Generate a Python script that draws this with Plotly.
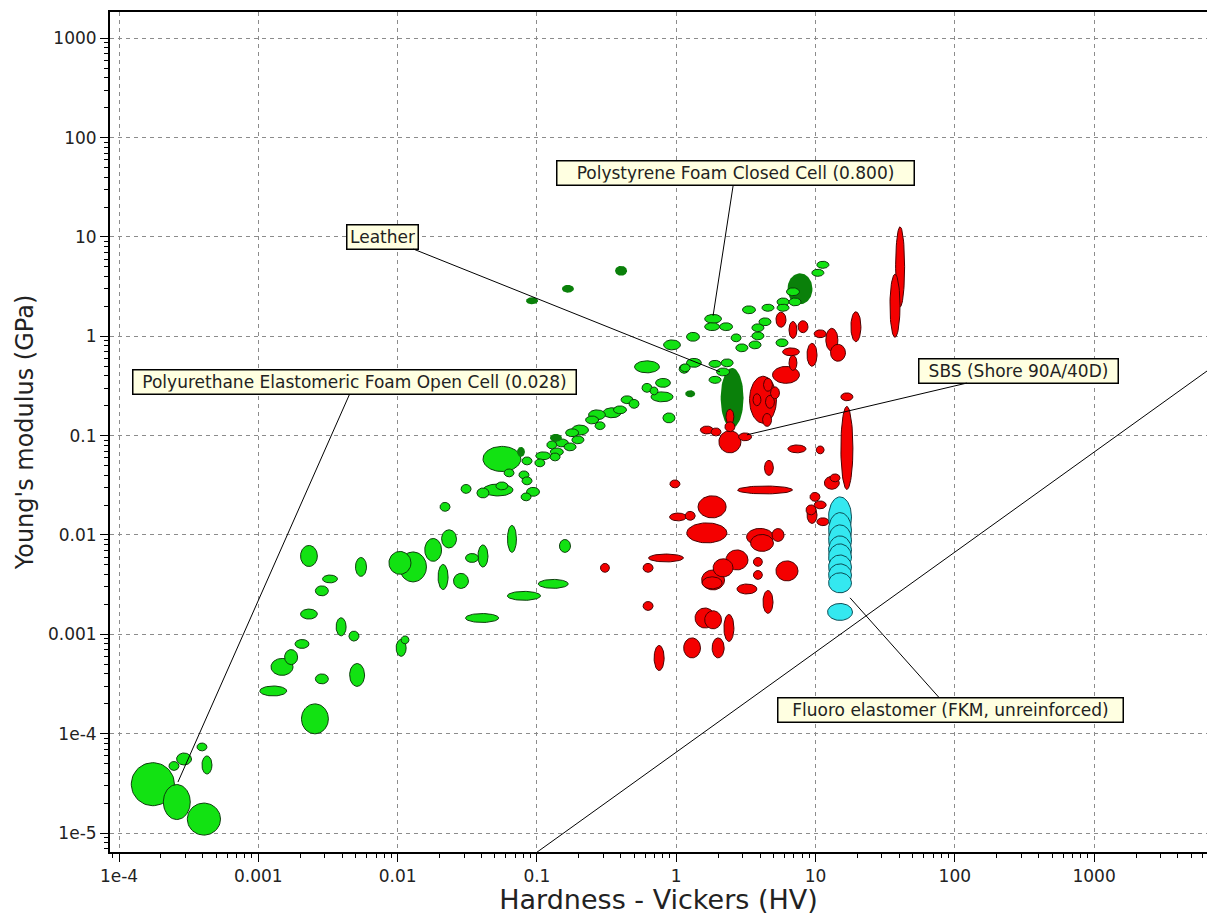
import numpy as np
import plotly.graph_objects as go

# ---------------- tick labels ----------------
X_TICKS = [1e-4, 1e-3, 1e-2, 1e-1, 1, 10, 100, 1000]
X_TICK_TEXT = ["1e-4", "0.001", "0.01", "0.1", "1", "10", "100", "1000"]
Y_TICKS = [1e-5, 1e-4, 1e-3, 1e-2, 1e-1, 1, 10, 100, 1000]
Y_TICK_TEXT = ["1e-5", "1e-4", "0.001", "0.01", "0.1", "1", "10", "100", "1000"]

# ---------------- foams (light green) ----------------
# centre hardness (HV), centre modulus (GPa), range ratio max/min in HV and in E
FOAM_HV = [1.75e-4, 2.6e-4, 4.07e-4, 2.48e-4, 2.93e-4, 3.94e-4, 4.28e-4,
           2.31e-3, 5.46e-3, 3.27e-3, 2.86e-3, 2.31e-3, 3.93e-3, 4.86e-3, 2.06e-3, 1.72e-3, 1.48e-3,
           1.06e-2, 1.13e-2, 2.86e-3, 5.12e-3, 1.28e-3, 2.55e-3,
           1.04e-2, 1.29e-2, 1.80e-2, 2.34e-2, 2.12e-2, 2.85e-2, 3.42e-2, 4.10e-2, 6.62e-2, 0.159,
           0.131, 8.07e-2, 4.04e-2,
           2.19e-2, 3.10e-2, 4.10e-2, 5.26e-2, 5.61e-2, 8.36e-2, 9.38e-2, 5.61e-2, 8.49e-2, 6.31e-2,
           8.07e-2, 8.49e-2, 0.105, 0.111, 0.135, 0.139, 0.128, 0.151, 0.173, 0.197, 0.179, 0.204,
           0.249, 0.284, 0.270, 0.346, 0.395, 0.444, 0.498, 0.617, 0.804, 0.617, 0.693, 0.791, 0.887,
           1.14, 1.34, 0.933, 1.32, 1.84, 1.81, 2.28, 3.33, 1.90, 2.17, 2.32, 1.90, 1.16,
           2.69, 2.96, 3.68, 3.86, 3.86, 4.34, 4.56, 5.85, 5.85, 6.89, 7.13, 5.75, 10.4, 11.3]
FOAM_E = [3.1e-5, 2.05e-5, 1.38e-5, 4.73e-5, 5.56e-5, 7.35e-5, 4.84e-5,
          6.15e-3, 4.77e-3, 3.61e-3, 2.74e-3, 1.60e-3, 1.19e-3, 9.6e-4, 8.0e-4, 5.9e-4, 4.7e-4,
          7.3e-4, 8.8e-4, 3.56e-4, 3.9e-4, 2.69e-4, 1.41e-4,
          5.24e-3, 4.77e-3, 7.08e-3, 9.14e-3, 3.78e-3, 3.45e-3, 5.87e-3, 6.15e-3, 9.14e-3, 7.76e-3,
          3.22e-3, 2.44e-3, 1.46e-3,
          1.92e-2, 2.91e-2, 2.65e-2, 2.84e-2, 3.12e-2, 2.42e-2, 2.72e-2, 5.83e-2, 5.57e-2, 4.22e-2,
          4.03e-2, 3.51e-2, 5.32e-2, 6.27e-2, 6.11e-2, 6.87e-2, 8.07e-2, 8.45e-2, 7.71e-2, 9.08e-2, 0.107, 0.114,
          0.144, 0.126, 0.162, 0.170, 0.182, 0.230, 0.209, 0.493, 0.340, 0.303, 0.282, 0.246, 0.151,
          0.471, 0.541, 0.820, 0.989, 1.50, 1.25, 1.25, 1.85, 0.365, 0.438, 0.541, 0.528, 0.482,
          0.966, 0.766, 0.820, 1.01, 1.22, 1.40, 1.94, 2.22, 1.94, 2.81, 2.22, 0.861, 4.36, 5.25]
FOAM_HV_RATIO = [2.04, 1.56, 1.73, 1.18, 1.28, 1.18, 1.18,
                 1.32, 1.20, 1.28, 1.24, 1.32, 1.18, 1.18, 1.26, 1.24, 1.44,
                 1.18, 1.14, 1.24, 1.28, 1.56, 1.56,
                 1.44, 1.56, 1.32, 1.28, 1.18, 1.28, 1.24, 1.18, 1.16, 1.20,
                 1.64, 1.73, 1.73,
                 1.18, 1.18, 1.22, 1.64, 1.22, 1.18, 1.24, 1.87, 1.18, 1.18,
                 1.18, 1.18, 1.18, 1.28, 1.18, 1.24, 1.18, 1.24, 1.22, 1.22, 1.24, 1.32,
                 1.24, 1.18, 1.32, 1.35, 1.24, 1.22, 1.18, 1.51, 1.28, 1.18, 1.14, 1.44, 1.22,
                 1.18, 1.28, 1.32, 1.24, 1.32, 1.28, 1.24, 1.24, 1.22, 1.24, 1.22, 1.22, 1.18,
                 1.18, 1.22, 1.22, 1.22, 1.22, 1.22, 1.22, 1.22, 1.22, 1.24, 1.22, 1.22, 1.22, 1.22]
FOAM_E_RATIO = [2.71, 2.25, 2.10, 1.23, 1.32, 1.20, 1.52,
                1.63, 1.55, 1.20, 1.26, 1.26, 1.52, 1.26, 1.23, 1.42, 1.48,
                1.48, 1.20, 1.26, 1.70, 1.26, 2.00,
                1.70, 2.00, 1.70, 1.52, 1.79, 1.42, 1.23, 1.67, 1.87, 1.35,
                1.23, 1.23, 1.23,
                1.23, 1.23, 1.26, 1.32, 1.20, 1.20, 1.23, 1.79, 1.20, 1.20,
                1.20, 1.20, 1.20, 1.20, 1.20, 1.20, 1.20, 1.20, 1.20, 1.20, 1.20, 1.26,
                1.20, 1.20, 1.26, 1.26, 1.20, 1.20, 1.23, 1.32, 1.23, 1.23, 1.20, 1.26, 1.26,
                1.23, 1.23, 1.26, 1.23, 1.23, 1.20, 1.20, 1.20, 1.18, 1.20, 1.20, 1.18, 1.20,
                1.20, 1.20, 1.20, 1.20, 1.20, 1.20, 1.18, 1.20, 1.18, 1.20, 1.20, 1.20, 1.18, 1.18]

# ---------------- natural materials (dark green) ----------------
NATURAL_HV = [0.402, 0.167, 9.23e-2, 7.74, 2.52, 1.26, 0.137, 7.69e-2]
NATURAL_E = [4.57, 3.01, 2.28, 3.01, 0.240, 0.264, 9.51e-2, 6.87e-2]
NATURAL_HV_RATIO = [1.22, 1.22, 1.22, 1.51, 1.46, 1.18, 1.22, 1.14]
NATURAL_E_RATIO = [1.26, 1.20, 1.18, 2.05, 4.02, 1.18, 1.20, 1.26]

# ---------------- elastomers (red) ----------------
ELAST_HV = [40.5, 37.2, 19.5, 13.1, 14.5, 10.8, 9.44, 8.13, 6.89, 6.67, 6.89, 5.65, 6.14,
            4.20, 4.56, 4.71, 4.49, 3.80, 5.12, 2.43, 2.43, 1.66, 1.93, 3.12, 2.43,
            16.8, 16.8, 7.36, 10.8, 4.63, 0.979, 4.34, 13.1, 13.8, 9.91, 10.8, 9.44, 11.3,
            1.81, 1.03, 1.26, 1.66, 4.00, 4.13, 5.38, 0.845, 0.308, 0.628, 2.73, 2.17, 1.84,
            1.81, 3.86, 3.86, 6.24, 3.22, 4.56, 0.628, 1.61, 1.84, 2.39, 1.30, 2.00, 0.754, 9.29]
ELAST_E = [5.01, 2.03, 1.25, 0.923, 0.683, 1.06, 0.652, 1.25, 1.16, 0.698, 0.541, 1.47, 0.409,
           0.230, 0.325, 0.219, 0.144, 0.230, 0.270, 8.67e-2, 0.155, 0.114, 0.109, 9.73e-2, 0.123,
           0.246, 7.53e-2, 7.36e-2, 7.19e-2, 4.74e-2, 3.27e-2, 2.84e-2, 3.35e-2, 3.76e-2, 2.42e-2,
           2.01e-2, 1.59e-2, 1.36e-2,
           1.92e-2, 1.52e-2, 1.56e-2, 1.05e-2, 9.57e-3, 8.32e-3, 1.00e-2, 5.87e-3, 4.67e-3, 4.67e-3,
           5.61e-3, 4.67e-3, 3.53e-3, 3.30e-3, 5.36e-3, 3.96e-3, 4.35e-3, 2.86e-3, 2.12e-3, 1.93e-3,
           1.46e-3, 1.40e-3, 1.16e-3, 7.3e-4, 7.3e-4, 5.78e-4, 1.79e-2]
ELAST_HV_RATIO = [1.16, 1.18, 1.18, 1.22, 1.28, 1.22, 1.18, 1.18, 1.14, 1.32, 1.14, 1.18, 1.56,
                  1.56, 1.16, 1.16, 1.16, 1.14, 1.16, 1.44, 1.14, 1.24, 1.18, 1.24, 1.18,
                  1.22, 1.22, 1.35, 1.14, 1.16, 1.18, 2.48, 1.28, 1.18, 1.18, 1.22, 1.18, 1.22,
                  1.59, 1.32, 1.18, 1.94, 1.56, 1.46, 1.22, 1.78, 1.16, 1.18, 1.44, 1.39, 1.46,
                  1.39, 1.16, 1.16, 1.44, 1.39, 1.18, 1.18, 1.39, 1.32, 1.18, 1.32, 1.22, 1.18, 1.18]
ELAST_E_RATIO = [6.39, 4.31, 2.00, 1.70, 1.48, 1.20, 1.70, 1.32, 1.48, 1.20, 1.42, 1.42, 1.48,
                 2.97, 1.35, 1.35, 1.35, 1.32, 1.32, 1.67, 1.42, 1.20, 1.20, 1.20, 1.26,
                 1.20, 6.85, 1.20, 1.20, 1.42, 1.20, 1.20, 1.35, 1.20, 1.23, 1.20, 1.48, 1.20,
                 1.67, 1.20, 1.23, 1.59, 1.48, 1.48, 1.35, 1.20, 1.23, 1.23, 1.59, 1.52, 1.59,
                 1.32, 1.23, 1.23, 1.59, 1.26, 1.70, 1.23, 1.59, 1.52, 1.87, 1.59, 1.59, 1.79, 1.26]

# ---------------- fluoroelastomer grades (cyan, highlighted) ----------------
FKM_HV = [15.0, 15.0, 15.0, 15.0, 15.0, 15.0, 15.0, 15.0, 15.0]
FKM_E = [1.52e-2, 1.12e-2, 8.93e-3, 7.08e-3, 6.01e-3, 4.77e-3, 3.96e-3, 3.30e-3, 1.68e-3]
FKM_HV_RATIO = [1.46, 1.46, 1.46, 1.46, 1.46, 1.46, 1.46, 1.46, 1.51]
FKM_E_RATIO = [2.53, 2.25, 2.00, 1.91, 1.83, 1.74, 1.67, 1.59, 1.48]

# ---------------- guideline E / HV = const ----------------
GUIDE_HV = [0.1, 6500]
GUIDE_E = [6.4e-6, 0.45]

# ---------------- labelled materials ----------------
LABEL_TEXT = ["Polystyrene Foam Closed Cell (0.800)", "Leather",
              "Polyurethane Elastomeric Foam Open Cell (0.028)", "SBS (Shore 90A/40D)",
              "Fluoro elastomer (FKM, unreinforced)"]
LABEL_HV = [1.84, 2.06, 2.65e-4, 3.22, 17.7]
LABEL_E = [1.61, 0.439, 3.26e-5, 0.102, 2.33e-3]

# ---------------- styles ----------------
LABEL_OFFSET_X = [22, -337, 177, 272, 100]
LABEL_OFFSET_Y = [-143, -135, -400, -64, 112]
LABEL_BOX_W = [352, 66, 438, 194, 340]

FOAM_FILL, FOAM_LINE = "#12e212", "#0c3d0c"
NAT_FILL = "#0a800a"
ELAST_FILL, ELAST_LINE = "#f40000", "#4a0000"
FKM_FILL, FKM_LINE = "#34e8f0", "#0b4c55"


def ellipse(hv, e, rhv, re, n=64):
    t = np.linspace(0, 2 * np.pi, n)
    lx = np.log10(hv) + 0.5 * np.log10(rhv) * np.cos(t)
    ly = np.log10(e) + 0.5 * np.log10(re) * np.sin(t)
    return 10 ** lx, 10 ** ly


fig = go.Figure()

# guideline first (behind bubbles)
fig.add_trace(go.Scatter(x=GUIDE_HV, y=GUIDE_E, mode="lines",
                         line=dict(color="black", width=1), hoverinfo="skip", showlegend=False))

# green families: larger ranges drawn first
green = []
for hv, e, a, b in zip(FOAM_HV, FOAM_E, FOAM_HV_RATIO, FOAM_E_RATIO):
    green.append((hv, e, a, b, FOAM_FILL, FOAM_LINE, 1))
for hv, e, a, b in zip(NATURAL_HV, NATURAL_E, NATURAL_HV_RATIO, NATURAL_E_RATIO):
    green.append((hv, e, a, b, NAT_FILL, NAT_FILL, 0))
green.sort(key=lambda r: -np.log10(r[2]) * np.log10(r[3]))

red = [(hv, e, a, b, ELAST_FILL, ELAST_LINE, 1)
       for hv, e, a, b in zip(ELAST_HV, ELAST_E, ELAST_HV_RATIO, ELAST_E_RATIO)]
red.sort(key=lambda r: -np.log10(r[2]) * np.log10(r[3]))

cyan = [(hv, e, a, b, FKM_FILL, FKM_LINE, 1)
        for hv, e, a, b in zip(FKM_HV, FKM_E, FKM_HV_RATIO, FKM_E_RATIO)]

for hv, e, a, b, fc, lc, lw in green + red + cyan:
    xs, ys = ellipse(hv, e, a, b)
    fig.add_trace(go.Scatter(x=xs, y=ys, mode="lines", fill="toself", fillcolor=fc,
                             line=dict(color=lc, width=lw), hoverinfo="skip", showlegend=False))

# labels with leader lines
for txt, hv, e, ax, ay, w in zip(LABEL_TEXT, LABEL_HV, LABEL_E, LABEL_OFFSET_X, LABEL_OFFSET_Y, LABEL_BOX_W):
    fig.add_annotation(x=np.log10(hv), y=np.log10(e), xref="x", yref="y", text=txt,
                       showarrow=True, arrowhead=0, arrowwidth=1, arrowcolor="black",
                       ax=ax, ay=ay, bgcolor="#ffffe1", bordercolor="black", borderwidth=1.5,
                       borderpad=2, width=w, height=19,
                       font=dict(family="DejaVu Sans", size=17, color="#222222"))

minor_vals = [m * 10.0 ** k for k in range(-6, 5) for m in range(2, 10)]

common = dict(type="log", tickmode="array", ticks="outside", ticklen=8, tickwidth=1,
              tickcolor="black", showline=True, linewidth=2, linecolor="black",
              showgrid=True, gridcolor="#8c8c8c", gridwidth=1, griddash="4px,4px",
              tickfont=dict(family="DejaVu Sans", size=17, color="#222222"),
              minor=dict(tickmode="array", tickvals=minor_vals, ticks="outside", ticklen=4,
                         tickwidth=1, tickcolor="black", showgrid=False),
              automargin=False)

fig.update_xaxes(**common, range=[-4.0646, 3.8105], tickvals=X_TICKS, ticktext=X_TICK_TEXT,
                 mirror=True,
                 title=dict(text="Hardness - Vickers (HV)", standoff=6,
                            font=dict(family="DejaVu Sans", size=27, color="#222222")))
fig.update_yaxes(**common, range=[-5.1913, 3.265], tickvals=Y_TICKS, ticktext=Y_TICK_TEXT,
                 mirror=False,
                 title=dict(text="Young's modulus (GPa)", standoff=8,
                            font=dict(family="DejaVu Sans", size=24, color="#222222")))

fig.update_layout(width=1207, height=915, margin=dict(l=110, r=0, t=12, b=63),
                  paper_bgcolor="white", plot_bgcolor="white", showlegend=False,
                  font=dict(family="DejaVu Sans", color="#222222"))

# remove the default page margin so the figure fills the window exactly
fig.write_html("out.html",
               config={"displayModeBar": False},
               post_script="document.body.style.margin='0px';"
                           "document.body.style.overflow='hidden';")
